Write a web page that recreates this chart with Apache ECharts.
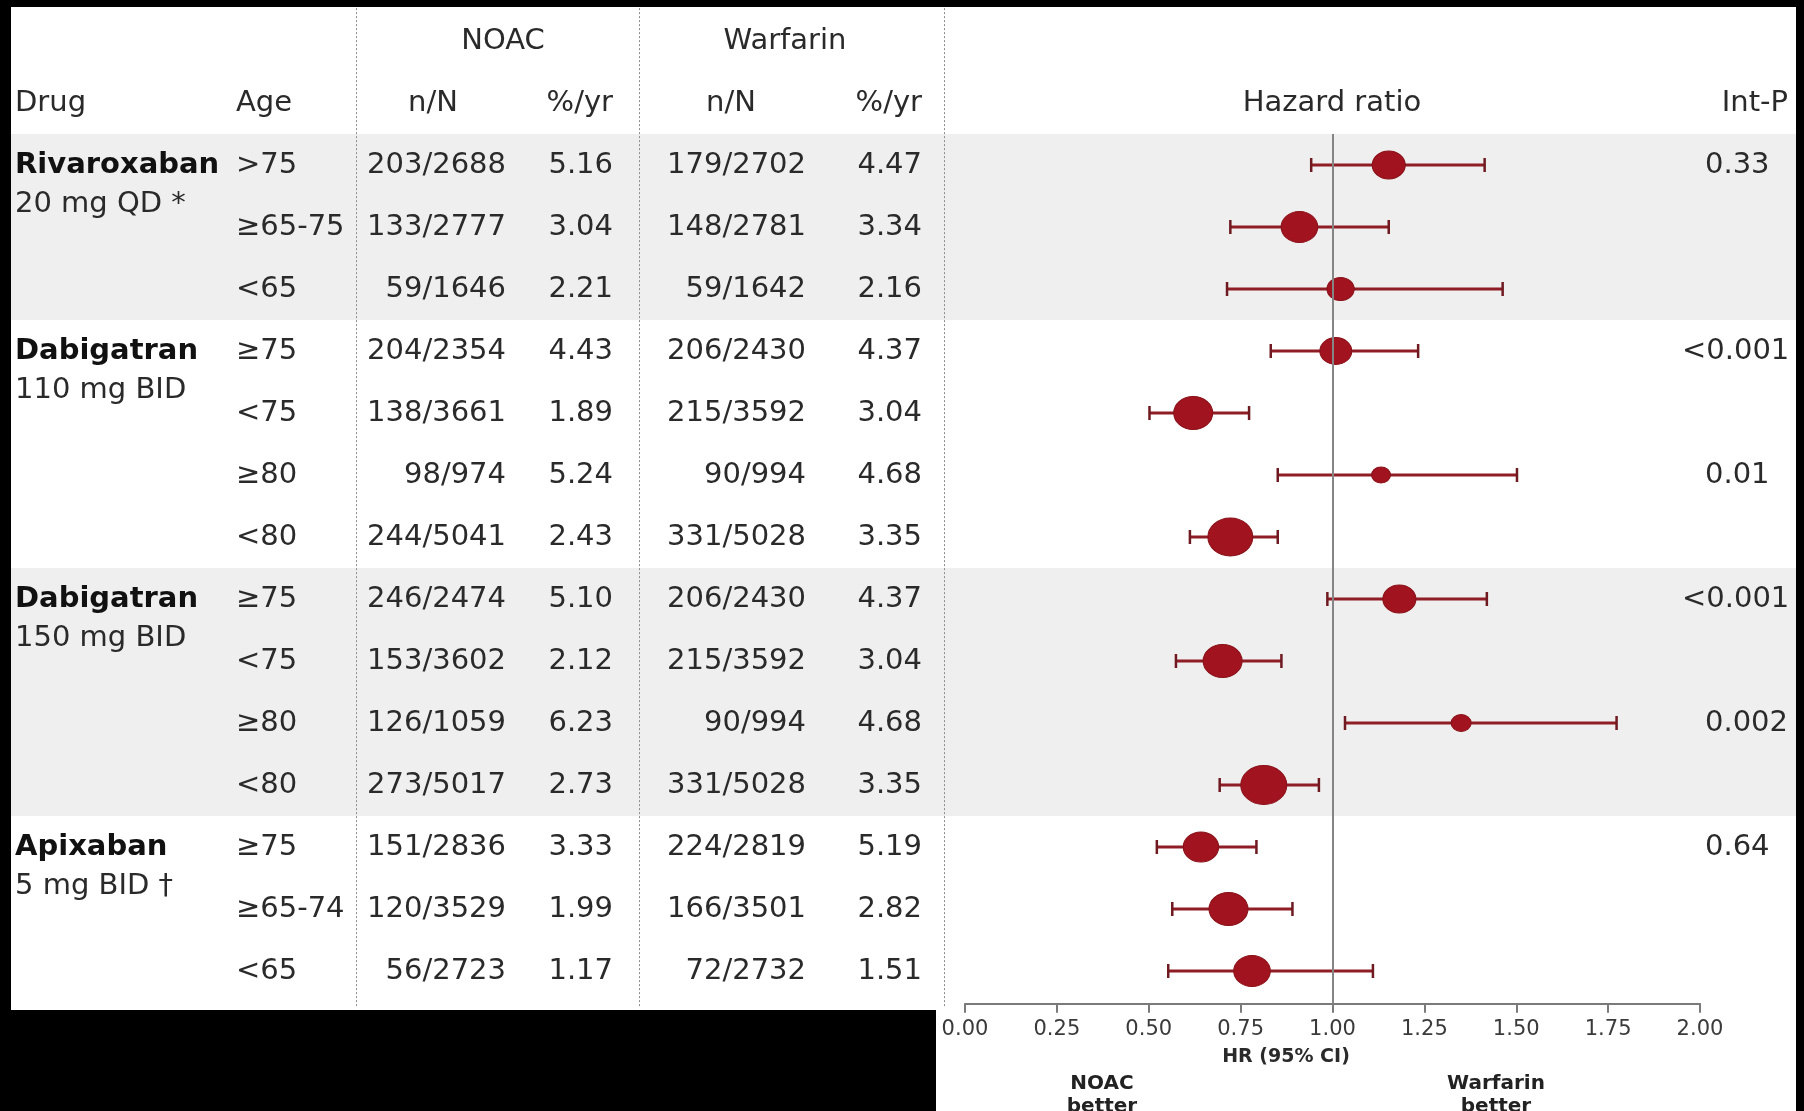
<!DOCTYPE html>
<html>
<head>
<meta charset="utf-8">
<script src="https://cdn.jsdelivr.net/npm/echarts@6/dist/echarts.min.js"></script>
<style>
html,body{margin:0;padding:0;background:#000;}
#chart{width:1804px;height:1111px;}
</style>
</head>
<body>
<div id="chart"></div>
<script>
// ---------------- data ----------------
const drugNames = ['Rivaroxaban', 'Dabigatran', 'Dabigatran', 'Apixaban'];
const drugDoses = ['20 mg QD *', '110 mg BID', '150 mg BID', '5 mg BID \u2020'];
const drugFirstRow = [0, 3, 7, 11];
const shadedGroups = [[0, 2], [7, 10]];

const ages = ['>75', '\u226565-75', '<65', '\u226575', '<75', '\u226580', '<80',
              '\u226575', '<75', '\u226580', '<80', '\u226575', '\u226565-74', '<65'];
const noacNN = ['203/2688', '133/2777', '59/1646', '204/2354', '138/3661', '98/974', '244/5041',
                '246/2474', '153/3602', '126/1059', '273/5017', '151/2836', '120/3529', '56/2723'];
const noacRate = ['5.16', '3.04', '2.21', '4.43', '1.89', '5.24', '2.43',
                  '5.10', '2.12', '6.23', '2.73', '3.33', '1.99', '1.17'];
const warfNN = ['179/2702', '148/2781', '59/1642', '206/2430', '215/3592', '90/994', '331/5028',
                '206/2430', '215/3592', '90/994', '331/5028', '224/2819', '166/3501', '72/2732'];
const warfRate = ['4.47', '3.34', '2.16', '4.37', '3.04', '4.68', '3.35',
                  '4.37', '3.04', '4.68', '3.35', '5.19', '2.82', '1.51'];

const hazardRatio = [1.153, 0.910, 1.022, 1.009, 0.621, 1.132, 0.722,
                     1.182, 0.701, 1.350, 0.813, 0.642, 0.717, 0.781];
const ciLow = [0.942, 0.722, 0.713, 0.832, 0.502, 0.851, 0.612,
               0.986, 0.574, 1.034, 0.693, 0.522, 0.564, 0.553];
const ciHigh = [1.414, 1.153, 1.463, 1.233, 0.773, 1.502, 0.851,
                1.420, 0.861, 1.773, 0.963, 0.793, 0.891, 1.110];
const markerWeight = [28, 31, 23, 27, 33, 16, 38, 28, 33, 17, 39, 30, 33, 31];
const intP = ['0.33', '', '', '<0.001', '', '0.01', '', '<0.001', '', '0.002', '', '0.64', '', ''];

const hrTicks = { min: 0, max: 2, interval: 0.25 };
const headerTop = ['NOAC', 'Warfarin'];
const headerCols = ['Drug', 'Age', 'n/N', '%/yr', 'n/N', '%/yr', 'Hazard ratio', 'Int-P'];

// ---------------- layout / style ----------------
const FONT = '"DejaVu Sans", "Noto Sans", sans-serif';
const F_REG = '29px ' + FONT;
const F_BOLD = 'bold 29px ' + FONT;
const TXT = '#2a2a2a';
const ROW_H = 62;
const FIRST_ROW_Y = 165;
const col = { drug: 15, age: 236, noacNN: 506, noacRate: 613, warfNN: 806, warfRate: 922,
              hr: 1332, pval: 1705, intPHead: 1788, noacHead: 503, warfHead: 785,
              nnHead1: 433, nnHead2: 731 };

const items = [];
function addText(x, row, text, align, font, color) {
  items.push({ x: x, row: row, text: text, align: align, font: font || F_REG, color: color || TXT });
}
// headers
addText(col.noacHead, -2, headerTop[0], 'center');
addText(col.warfHead, -2, headerTop[1], 'center');
addText(col.drug, -1, headerCols[0], 'left');
addText(col.age, -1, headerCols[1], 'left');
addText(col.nnHead1, -1, headerCols[2], 'center');
addText(col.noacRate, -1, headerCols[3], 'right');
addText(col.nnHead2, -1, headerCols[4], 'center');
addText(col.warfRate, -1, headerCols[5], 'right');
addText(col.hr, -1, headerCols[6], 'center');
addText(col.intPHead, -1, headerCols[7], 'right');
// drug labels
drugNames.forEach(function (d, i) {
  addText(col.drug, drugFirstRow[i], d, 'left', F_BOLD, '#111');
  addText(col.drug, drugFirstRow[i] + 39 / ROW_H, drugDoses[i], 'left');
});
// rows
ages.forEach(function (a, r) {
  addText(col.age, r, a, 'left');
  addText(col.noacNN, r, noacNN[r], 'right');
  addText(col.noacRate, r, noacRate[r], 'right');
  addText(col.warfNN, r, warfNN[r], 'right');
  addText(col.warfRate, r, warfRate[r], 'right');
  if (intP[r]) {
    addText(intP[r].charAt(0) === '<' ? col.pval - 23 : col.pval, r, intP[r], 'left');
  }
});

const tableMin = -2.53, tableMax = 13.58;
const forestMin = -0.5, forestMax = 13.53;

const chart = echarts.init(document.getElementById('chart'), null, { renderer: 'canvas' });

const option = {
  animation: false,
  backgroundColor: '#ffffff',
  grid: [
    { left: 0, width: 1804, top: FIRST_ROW_Y + (tableMin) * ROW_H, height: (tableMax - tableMin) * ROW_H },
    { left: 965, width: 735, top: FIRST_ROW_Y + (forestMin) * ROW_H, height: (forestMax - forestMin) * ROW_H }
  ],
  xAxis: [
    { gridIndex: 0, type: 'value', min: 0, max: 1804, show: false },
    {
      gridIndex: 1, type: 'value', min: hrTicks.min, max: hrTicks.max, interval: hrTicks.interval,
      position: 'bottom',
      axisLine: { show: true, onZero: false, lineStyle: { color: '#7a7a7a', width: 2 } },
      axisTick: { show: true, length: 9, lineStyle: { color: '#7a7a7a', width: 2 } },
      axisLabel: {
        margin: 15, color: '#3a3a3a', fontFamily: 'DejaVu Sans', fontSize: 21,
        formatter: function (v) { return v.toFixed(2); }
      },
      splitLine: { show: false }
    }
  ],
  yAxis: [
    { gridIndex: 0, type: 'value', inverse: true, min: tableMin, max: tableMax, show: false },
    { gridIndex: 1, type: 'value', inverse: true, min: forestMin, max: forestMax, show: false }
  ],
  graphic: {
    elements: [
      { type: 'text', x: 1286, y: 1057, z: 50,
        style: { text: 'HR (95% CI)', align: 'center', textAlign: 'center', verticalAlign: 'middle', textVerticalAlign: 'middle',
                 font: 'bold 19px ' + FONT, fill: '#2a2a2a' } },
      { type: 'text', x: 1102, y: 1072, z: 50,
        style: { text: 'NOAC\nbetter', align: 'center', textAlign: 'center', verticalAlign: 'top', textVerticalAlign: 'top',
                 font: 'bold 20px ' + FONT, fill: '#222', lineHeight: 23 } },
      { type: 'text', x: 1496, y: 1072, z: 50,
        style: { text: 'Warfarin\nbetter', align: 'center', textAlign: 'center', verticalAlign: 'top', textVerticalAlign: 'top',
                 font: 'bold 20px ' + FONT, fill: '#222', lineHeight: 23 } },
      // black frame of the scanned figure
      { type: 'rect', z: 100, shape: { x: 0, y: 0, width: 1804, height: 7 }, style: { fill: '#000' } },
      { type: 'rect', z: 100, shape: { x: 0, y: 0, width: 11, height: 1111 }, style: { fill: '#000' } },
      { type: 'rect', z: 100, shape: { x: 1796, y: 0, width: 8, height: 1111 }, style: { fill: '#000' } },
      { type: 'rect', z: 100, shape: { x: 0, y: 1010, width: 936, height: 101 }, style: { fill: '#000' } }
    ]
  },
  series: [
    // shaded bands + dotted column separators
    {
      type: 'scatter', xAxisIndex: 0, yAxisIndex: 0, data: [], silent: true, z: 0,
      markArea: {
        silent: true,
        itemStyle: { color: '#efefef' },
        data: shadedGroups.map(function (g) {
          return [{ coord: [11, g[0] - 0.5] }, { coord: [1796, g[1] + 0.5] }];
        })
      },
      markLine: {
        silent: true, symbol: 'none', label: { show: false },
        lineStyle: { color: '#8c8c8c', width: 1, type: [2, 2] },
        data: [356, 639, 944].map(function (x) {
          return [{ coord: [x, tableMin] }, { coord: [x, tableMax] }];
        })
      }
    },
    // table text
    {
      type: 'custom', xAxisIndex: 0, yAxisIndex: 0, silent: true, z: 5,
      data: items.map(function (t) { return [t.x, t.row]; }),
      renderItem: function (params, api) {
        const t = items[params.dataIndex];
        const p = api.coord([api.value(0), api.value(1)]);
        return {
          type: 'text', x: p[0], y: p[1],
          style: { text: t.text, align: t.align, textAlign: t.align, verticalAlign: 'middle', textVerticalAlign: 'middle',
                   font: t.font, fill: t.color }
        };
      }
    },
    // confidence intervals + reference line
    {
      type: 'custom', xAxisIndex: 1, yAxisIndex: 1, silent: true, z: 3,
      data: ciLow.map(function (lo, r) { return [lo, ciHigh[r], r]; }),
      renderItem: function (params, api) {
        const row = api.value(2);
        const a = api.coord([api.value(0), row]);
        const b = api.coord([api.value(1), row]);
        const h = 7;
        return {
          type: 'group', children: [
            { type: 'line', shape: { x1: a[0], y1: a[1], x2: b[0], y2: b[1] }, style: { stroke: '#8f1d25', lineWidth: 3 } },
            { type: 'line', shape: { x1: a[0], y1: a[1] - h, x2: a[0], y2: a[1] + h }, style: { stroke: '#6e1a20', lineWidth: 2.5 } },
            { type: 'line', shape: { x1: b[0], y1: b[1] - h, x2: b[0], y2: b[1] + h }, style: { stroke: '#6e1a20', lineWidth: 2.5 } }
          ]
        };
      },
      markLine: {
        silent: true, symbol: 'none', label: { show: false },
        lineStyle: { color: '#858585', width: 2, type: 'solid' },
        data: [{ xAxis: 1 }]
      }
    },
    // hazard ratio markers
    {
      type: 'scatter', xAxisIndex: 1, yAxisIndex: 1, silent: true, z: 4,
      data: hazardRatio.map(function (v, r) { return [v, r, markerWeight[r]]; }),
      symbol: 'circle',
      symbolSize: function (v) { return [v[2] * 1.18, v[2]]; },
      itemStyle: { color: '#a1141f', borderColor: '#8a1119', borderWidth: 1, opacity: 1 }
    }
  ]
};
chart.setOption(option);
</script>
</body>
</html>
